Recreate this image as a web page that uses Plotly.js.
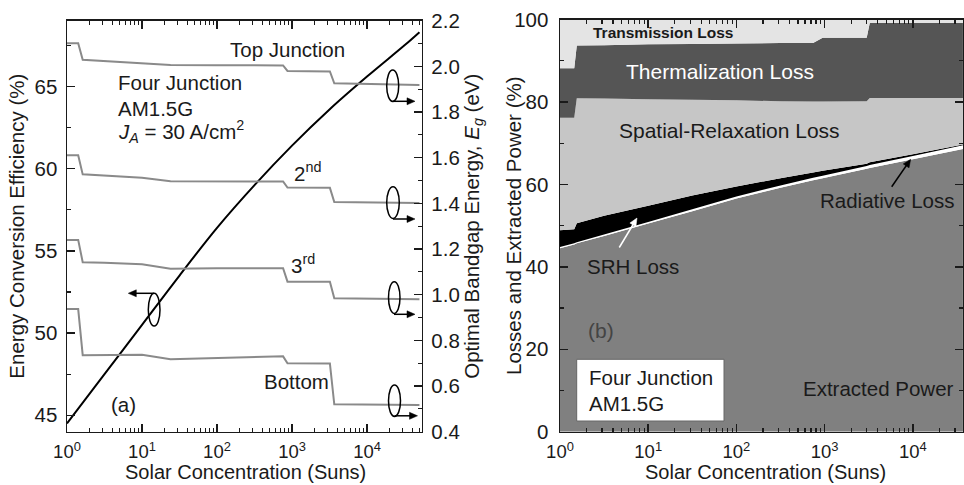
<!DOCTYPE html>
<html><head><meta charset="utf-8">
<script src="https://cdn.plot.ly/plotly-3.0.1.min.js"></script>
<style>html,body{margin:0;padding:0;background:#fff}</style>
</head><body><div id="chart" style="width:964px;height:485px"></div>
<script>
// ---------- Panel (a): optimal bandgaps (right axis) and efficiency (left axis)
const concA    = [1, 1.41, 1.62, 3.16, 10, 24, 100, 760, 870, 3200, 3660, 10000, 50000];
const egTop    = [2.101, 2.101, 2.029, 2.024, 2.015, 2.006, 2.005, 2.004, 1.980, 1.978, 1.926, 1.922, 1.918];
const eg2nd    = [1.611, 1.611, 1.527, 1.522, 1.512, 1.497, 1.497, 1.496, 1.469, 1.468, 1.406, 1.404, 1.402];
const eg3rd    = [1.240, 1.240, 1.142, 1.140, 1.133, 1.114, 1.116, 1.116, 1.057, 1.057, 0.984, 0.982, 0.980];
const egBottom = [0.937, 0.937, 0.735, 0.736, 0.737, 0.717, 0.722, 0.730, 0.700, 0.699, 0.520, 0.519, 0.517];
const concEff    = [1, 3.162, 10, 31.62, 100, 316.2, 1000, 3162, 10000, 31623, 50000];
const efficiency = [44.5, 47.5, 50.5, 53.5, 56.4, 59.0, 61.4, 63.6, 65.6, 67.5, 68.3];

// ---------- Panel (b): stacked losses and extracted power (%)
const concB        = [1, 1.45, 1.55, 3.16, 10, 31.6, 100, 316, 740, 950, 3000, 3250, 10000, 37000];
const extracted    = [44.5, 45.4, 45.7, 47.5, 50.5, 53.5, 56.6, 59.2, 61.0, 61.5, 63.8, 64.0, 66.1, 68.6];
const radiative    = [0.3, 0.3, 0.3, 0.35, 0.4, 0.45, 0.5, 0.55, 0.6, 0.6, 0.7, 0.7, 0.8, 0.9];
const srh          = [4.1, 3.4, 4.6, 4.55, 3.9, 3.35, 2.4, 1.75, 1.3, 1.2, 0.5, 0.7, 0.4, 0.2];
const spatial      = [27.3, 27.1, 30.3, 28.45, 25.9, 23.25, 20.9, 18.7, 17.2, 16.8, 15.2, 15.6, 13.7, 11.3];
const thermal      = [12.0, 12.0, 12.8, 12.95, 13.3, 13.55, 13.8, 14.1, 14.2, 15.5, 15.4, 18.2, 18.2, 18.2];
const transmission = [11.8, 11.8, 6.3, 6.2, 6.0, 5.9, 5.8, 5.7, 5.7, 4.4, 4.4, 0.8, 0.8, 0.8];

// ---------- ticks
const xTickVals = [1, 10, 100, 1000, 10000];
const xTickText = ['10<sup>0</sup>', '10<sup>1</sup>', '10<sup>2</sup>', '10<sup>3</sup>', '10<sup>4</sup>'];
const minorVals = [];
for (let d = 0; d <= 4; d++) for (let k = 2; k <= 9; k++) minorVals.push(k * Math.pow(10, d));

const FONT = 'Liberation Sans, Arial, sans-serif';
const TXT = '#1a1a1a';
const FS = 20.5;
const W = 964, H = 485;
const px = v => v / W;
const py = v => 1 - v / H;

const gray = '#8a8a8a';
const traces = [
  {x: concA, y: egTop,    yaxis: 'y2', mode: 'lines', line: {color: gray, width: 2}},
  {x: concA, y: eg2nd,    yaxis: 'y2', mode: 'lines', line: {color: gray, width: 2}},
  {x: concA, y: eg3rd,    yaxis: 'y2', mode: 'lines', line: {color: gray, width: 2}},
  {x: concA, y: egBottom, yaxis: 'y2', mode: 'lines', line: {color: gray, width: 2}},
  {x: concEff, y: efficiency, mode: 'lines', line: {color: '#000', width: 2, shape: 'spline'}},
  {x: concB, y: extracted,    xaxis: 'x2', yaxis: 'y3', stackgroup: 'b', mode: 'none', fillcolor: '#808080'},
  {x: concB, y: radiative,    xaxis: 'x2', yaxis: 'y3', stackgroup: 'b', mode: 'none', fillcolor: '#ffffff'},
  {x: concB, y: srh,          xaxis: 'x2', yaxis: 'y3', stackgroup: 'b', mode: 'none', fillcolor: '#000000'},
  {x: concB, y: spatial,      xaxis: 'x2', yaxis: 'y3', stackgroup: 'b', mode: 'none', fillcolor: '#c6c6c6'},
  {x: concB, y: thermal,      xaxis: 'x2', yaxis: 'y3', stackgroup: 'b', mode: 'none', fillcolor: '#555555'},
  {x: concB, y: transmission, xaxis: 'x2', yaxis: 'y3', stackgroup: 'b', mode: 'none', fillcolor: '#e4e4e4'}
];

const axisCommon = {
  showline: true, linecolor: TXT, linewidth: 1.5, showgrid: false, zeroline: false,
  ticks: 'inside', ticklen: 8, tickwidth: 1.5, tickcolor: TXT,
  tickfont: {family: FONT, size: 20.5, color: TXT}
};
const logX = Object.assign({}, axisCommon, {
  type: 'log', tickmode: 'array', tickvals: xTickVals, ticktext: xTickText,
  mirror: 'ticks', ticklabelstandoff: 3, tickfont: {family: FONT, size: 18.5, color: TXT},
  minor: {ticks: 'inside', ticklen: 4, tickwidth: 1.2, tickcolor: TXT, tickmode: 'array', tickvals: minorVals, showgrid: false}
});

const layout = {
  width: W, height: H, margin: {l: 0, r: 0, t: 0, b: 0},
  paper_bgcolor: '#fff', plot_bgcolor: 'rgba(0,0,0,0)', showlegend: false,
  font: {family: FONT, size: FS, color: TXT},
  xaxis: Object.assign({}, logX, {
    domain: [px(67), px(421.7)], range: [0, 4.729], anchor: 'y'
  }),
  yaxis: Object.assign({}, axisCommon, {
    domain: [py(431.7), py(20.7)], range: [44, 69], anchor: 'x',
    dtick: 5, ticklabelstandoff: 4,
    minor: {ticks: 'inside', ticklen: 4, tickwidth: 1.2, tickcolor: TXT, dtick: 2.5, showgrid: false},
    title: {text: 'Energy Conversion Efficiency (%)', font: {size: FS}, standoff: 4}
  }),
  yaxis2: Object.assign({}, axisCommon, {
    overlaying: 'y', side: 'right', anchor: 'x', range: [0.4, 2.2], dtick: 0.2, tickformat: '.1f',
    ticklabelstandoff: 4,
    minor: {ticks: 'inside', ticklen: 4, tickwidth: 1.2, tickcolor: TXT, dtick: 0.1, showgrid: false},
    title: {text: 'Optimal Bandgap Energy, <i>E</i><sub><i>g</i></sub> (eV)', font: {size: FS}, standoff: 4}
  }),
  xaxis2: Object.assign({}, logX, {
    domain: [px(560), px(963)], range: [0, 4.569], anchor: 'y3'
  }),
  yaxis3: Object.assign({}, axisCommon, {
    domain: [py(431.7), py(19.6)], range: [0, 100], anchor: 'x2', mirror: 'ticks',
    dtick: 20, ticklabelstandoff: 6,
    minor: {ticks: 'inside', ticklen: 4, tickwidth: 1.2, tickcolor: TXT, dtick: 10, showgrid: false}
  }),
  shapes: [
    {type: 'circle', xref: 'paper', yref: 'paper', x0: px(386.7), x1: px(398.7), y0: py(101.5), y1: py(70), line: {color: '#000', width: 1.5}},
    {type: 'circle', xref: 'paper', yref: 'paper', x0: px(386.7), x1: px(399.3), y0: py(218.5), y1: py(186.7), line: {color: '#000', width: 1.5}},
    {type: 'circle', xref: 'paper', yref: 'paper', x0: px(388.5), x1: px(400), y0: py(313.5), y1: py(281.7), line: {color: '#000', width: 1.5}},
    {type: 'circle', xref: 'paper', yref: 'paper', x0: px(388.5), x1: px(400.5), y0: py(416.5), y1: py(385), line: {color: '#000', width: 1.5}},
    {type: 'circle', xref: 'paper', yref: 'paper', x0: px(148.3), x1: px(160), y0: py(326), y1: py(293.3), line: {color: '#000', width: 1.5}},
    {type: 'rect', xref: 'paper', yref: 'paper', x0: px(576.7), x1: px(724), y0: py(421), y1: py(359.3), fillcolor: '#fff', line: {color: '#666', width: 1}, layer: 'above'}
  ],
  annotations: []
};

// arrows drawn as a line plus a filled head (pixel positions converted to paper)
function addArrow(hx, hy, tx, ty, color) {
  const c = color || '#000';
  const dx = hx - tx, dy = hy - ty, L = Math.hypot(dx, dy);
  const ux = dx / L, uy = dy / L, nx = -uy, ny = ux;
  const hl = 8, hw = 3.5;
  const bx = hx - ux * hl, by = hy - uy * hl;
  layout.shapes.push({type: 'line', xref: 'paper', yref: 'paper', x0: px(tx), y0: py(ty), x1: px(bx + ux), y1: py(by + uy), line: {color: c, width: 1.5}, layer: 'above'});
  const p = [[hx, hy], [bx + nx * hw, by + ny * hw], [bx - nx * hw, by - ny * hw]];
  layout.shapes.push({type: 'path', xref: 'paper', yref: 'paper',
    path: 'M' + px(p[0][0]) + ',' + py(p[0][1]) + 'L' + px(p[1][0]) + ',' + py(p[1][1]) + 'L' + px(p[2][0]) + ',' + py(p[2][1]) + 'Z',
    fillcolor: c, line: {color: c, width: 0.5}, layer: 'above'});
}
addArrow(415, 101.3, 392.5, 101.3);
addArrow(415, 219, 393, 219);
addArrow(415, 314.3, 394, 314.3);
addArrow(417.5, 415.8, 394.5, 415.8);
addArrow(128.3, 293.3, 154, 293.3);
addArrow(910.7, 159.3, 891.7, 186.7, '#000');
addArrow(637, 218, 619.3, 247.5, '#fff');

function txt(x, y, text, opts) {
  return Object.assign({xref: 'paper', yref: 'paper', x: px(x), y: py(y), text: text, showarrow: false,
    xanchor: 'center', yanchor: 'middle', font: {family: FONT, size: FS, color: TXT}}, opts || {});
}
layout.annotations.push(
  txt(245, 485, 'Solar Concentration (Suns)', {yanchor: 'bottom', font: {family: FONT, size: 20, color: TXT}}),
  txt(765.8, 485, 'Solar Concentration (Suns)', {yanchor: 'bottom', font: {family: FONT, size: 20, color: TXT}}),
  txt(513, 226, 'Losses and Extracted Power (%)', {textangle: -90}),
  txt(287, 50, 'Top Junction'),
  txt(115.7, 82.7, 'Four Junction', {xanchor: 'left'}),
  txt(115.7, 108.3, 'AM1.5G', {xanchor: 'left'}),
  txt(115.7, 131.7, '<i>J</i><sub><i>A</i></sub> = 30 A/cm<sup>2</sup>', {xanchor: 'left'}),
  txt(291.7, 172, '2<sup>nd</sup>', {xanchor: 'left'}),
  txt(289.3, 264, '3<sup>rd</sup>', {xanchor: 'left'}),
  txt(296.7, 381.7, 'Bottom'),
  txt(123.3, 404.3, '(a)'),
  txt(662.5, 32.3, '<b>Transmission Loss</b>', {font: {family: FONT, size: 15.5, color: TXT}}),
  txt(720, 71.7, 'Thermalization Loss', {font: {family: FONT, size: 21, color: '#fff'}}),
  txt(729.2, 131, 'Spatial-Relaxation Loss', {font: {family: FONT, size: 21, color: TXT}}),
  txt(886.7, 200, 'Radiative Loss'),
  txt(633.3, 266.7, 'SRH Loss'),
  txt(600.7, 330, '(b)', {font: {family: FONT, size: 21, color: '#444'}}),
  txt(587.3, 377.7, 'Four Junction', {xanchor: 'left'}),
  txt(587.3, 403.3, 'AM1.5G', {xanchor: 'left'}),
  txt(878.3, 388.3, 'Extracted Power')
);

Plotly.newPlot('chart', traces, layout, {displayModeBar: false, staticPlot: true});
</script></body></html>
